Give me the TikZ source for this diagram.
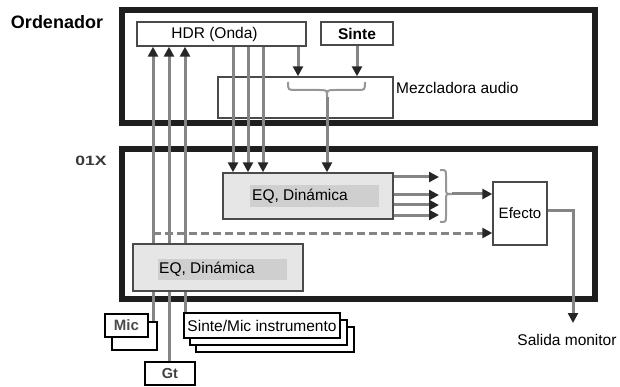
\documentclass[tikz,border=0pt]{standalone}
\usepackage{fontspec}
\setmainfont{Liberation Sans}
\usetikzlibrary{arrows.meta}
\definecolor{wire}{HTML}{858585}
\definecolor{tipc}{HTML}{262626}
\definecolor{frame}{HTML}{1E1E1E}
\definecolor{edge}{HTML}{4A4A4A}
\definecolor{panel}{HTML}{E6E6E6}
\definecolor{panelin}{HTML}{CFCFCF}
\tikzset{
  bigbox/.style={draw=frame, line width=5.5pt, inner sep=0pt},
  thinbox/.style={draw=edge, line width=1.4pt, inner sep=0pt},
  eqbox/.style={draw=edge, line width=1.4pt, fill=panel, inner sep=0pt},
  eqin/.style={fill=panelin, inner sep=0pt},
  srcbox/.style={draw=black, line width=2.6pt, fill=white, inner sep=0pt},
  sig/.style={draw=wire, line width=3pt},
  tipped/.style={-{Triangle[length=10pt,width=10pt,color=tipc]}},
  bracestyle/.style={draw=wire!85, line width=2pt},
  txt/.style={inner sep=0pt, font=\fontsize{15.5}{18}\selectfont}
}
\begin{document}
\begin{tikzpicture}[x=1pt,y=-1pt]
\useasboundingbox (0,0) rectangle (620,387);

% outer frames
\node[bigbox, minimum width=473pt, minimum height=113pt] (ordbox) at (358.5,66.5) {};
\node[bigbox, minimum width=473pt, minimum height=150pt] (oxbox) at (358.5,224) {};
\node[txt, font=\fontsize{18}{20}\selectfont\bfseries] (ordlab) at (57,22) {Ordenador};
\node[inner sep=0pt, text=black!78, font=\fontsize{13.5}{15}\selectfont\bfseries] (oxlab) at (91,161) {\scalebox{1.3}[1]{01X}};

% computer side blocks
\node[thinbox, fill=white, minimum width=169pt, minimum height=24pt,
      label={[txt, xshift=-7pt]center:HDR (Onda)}] (hdr) at (221.5,34) {};
\node[thinbox, fill=white, minimum width=72pt, minimum height=23pt,
      font=\fontsize{15.5}{18}\selectfont\bfseries] (sinte) at (357,33.5) {Sinte};
\node[thinbox, minimum width=175pt, minimum height=41pt] (mez) at (305.5,97.5) {};
\node[txt, anchor=west] (mezlab) at (396,88) {Mezcladora audio};

% column positions of the wires
\coordinate (xa) at (153,0);
\coordinate (xb) at (169,0);
\coordinate (xc) at (185,0);
\coordinate (xd) at (233,0);
\coordinate (xe) at (248,0);
\coordinate (xf) at (263,0);
\coordinate (xg) at (298,0);
\coordinate (xh) at (327,0);
\coordinate (xo) at (573,0);

% source boxes (stacked)
\node[srcbox, minimum width=45pt, minimum height=28pt] (micb) at (134.5,336) {};
\node[srcbox, minimum width=43pt, minimum height=23pt,
      font=\fontsize{15}{17}\selectfont\bfseries, text=black!70] (mic) at (126.5,325.5) {Mic};
\node[srcbox, minimum width=50pt, minimum height=23pt,
      font=\fontsize{14.5}{17}\selectfont\bfseries, text=black!75] (gt) at (170,373.5) {Gt};
\node[srcbox, minimum width=158pt, minimum height=25pt] (instc) at (275,339.5) {};
\node[srcbox, minimum width=157pt, minimum height=25pt] (instb) at (268.5,332.5) {};
\node[srcbox, minimum width=156pt, minimum height=25pt, txt] (insta) at (262,325.5) {Sinte/Mic instrumento};

% recording inputs going up to the HDR
\draw[sig, tipped] (xa |- micb.north) -- (xa |- hdr.south);
\draw[sig, tipped] (xb |- gt.north) -- (xb |- hdr.south);
\draw[sig, tipped] (xc |- insta.north) -- (xc |- hdr.south);

% 01X processing blocks
\node[eqbox, minimum width=170pt, minimum height=46pt] (eqa) at (308,196) {};
\node[eqin, minimum width=129pt, minimum height=22pt] (eqain) at (314.5,196) {};
\node[txt, anchor=west] (eqalab) at (252,196) {EQ, Dinámica};
\node[eqbox, minimum width=170pt, minimum height=47pt] (eqb) at (218,267.5) {};
\node[eqin, minimum width=129pt, minimum height=21pt] (eqbin) at (222.5,269.5) {};
\node[txt, anchor=west] (eqblab) at (159,269.5) {EQ, Dinámica};
\node[thinbox, fill=white, minimum width=54pt, minimum height=63pt,
      font=\fontsize{15}{18}\selectfont] (efecto) at (520,213.5) {Efecto};

% playback from the HDR
\draw[sig, tipped] (xd |- hdr.south) -- (xd |- eqa.north);
\draw[sig, tipped] (xe |- hdr.south) -- (xe |- eqa.north);
\draw[sig, tipped] (xf |- hdr.south) -- (xf |- eqa.north);
\draw[sig, tipped] (xg |- hdr.south) -- (xg |- mez.north);
\draw[sig, tipped] (sinte.south) -- (sinte.south |- mez.north);

% brace inside the audio mixer
\coordinate (mzl) at (288,82);
\coordinate (mzr) at (365,82);
\coordinate (mzt) at (327,97);
\draw[bracestyle] (mzl) .. controls (288,90) and (288,90) .. (296,90) -- (319,90)
  .. controls (327,90) and (327,90) .. (mzt)
  .. controls (327,90) and (327,90) .. (335,90) -- (357,90)
  .. controls (365,90) and (365,90) .. (mzr);
\draw[sig, tipped] (mzt) -- (xh |- eqa.north);

% outputs of the upper EQ
\coordinate (oa) at (439,177);
\coordinate (ob) at (439,195);
\coordinate (oc) at (439,205);
\coordinate (od) at (439,215);
\foreach \o in {oa,ob,oc,od}
  \draw[sig, tipped] (eqa.east |- \o) -- (\o);

% brace gathering the EQ outputs
\coordinate (bt) at (440,170);
\coordinate (bb) at (440,222);
\coordinate (bm) at (452,194);
\draw[bracestyle] (bt) .. controls (446,170) and (446,170) .. (446,176) -- (446,188)
  .. controls (446,194) and (446,194) .. (bm)
  .. controls (446,194) and (446,194) .. (446,200) -- (446,216)
  .. controls (446,222) and (446,222) .. (bb);
\draw[sig, tipped] (bm) -- (efecto.west |- bm);

% direct (dashed) send to the effect
\coordinate (dsh) at (153,233);
\draw[sig, dash pattern=on 8pt off 4pt, tipped] (dsh) -- (efecto.west |- dsh);

% monitor output
\coordinate (eo) at (547,211);
\coordinate (mon) at (573,323);
\draw[sig, tipped] (efecto.east |- eo) -- (xo |- eo) -- (mon);
\node[txt] (monlab) at (567,340) {Salida monitor};
\end{tikzpicture}
\end{document}
